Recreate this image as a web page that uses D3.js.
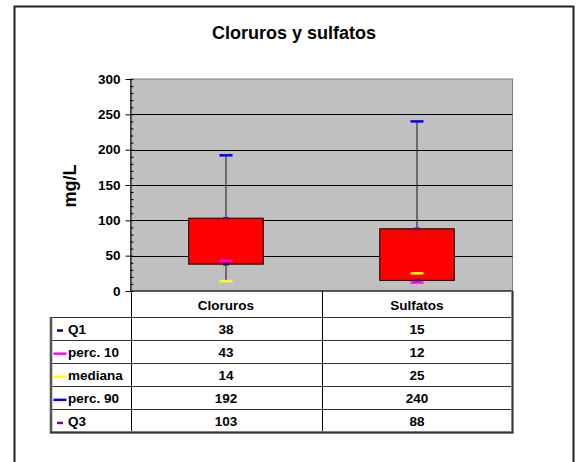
<!DOCTYPE html>
<html>
<head>
<meta charset="utf-8">
<script src="https://cdn.jsdelivr.net/npm/d3@7"></script>
<style>
  body { margin: 0; background: #fff; }
  text { font-family: "Liberation Sans", Arial, sans-serif; font-weight: bold; fill: #000; }
</style>
</head>
<body>
<div id="chart"></div>
<script>
// data
var categories = ["Cloruros", "Sulfatos"];
var seriesNames = ["Q1", "perc. 10", "mediana", "perc. 90", "Q3"];
var q1 = [38, 15];
var perc10 = [43, 12];
var mediana = [14, 25];
var perc90 = [192, 240];
var q3 = [103, 88];
var yTicks = [0, 50, 100, 150, 200, 250, 300];

var seriesValues = [q1, perc10, mediana, perc90, q3];
var seriesColors = ["#000080", "#FF00FF", "#FFFF00", "#0000FF", "#800080"];
var markerWidth = [6, 13, 13, 13, 6];

var svgWidth = 580, svgHeight = 462;
var plot = { left: 130.5, right: 512.5, top: 79, bottom: 291 };
var table = { left: 51, headerBottom: 317, bottom: 432.5 };

var svg = d3.select("#chart").append("svg")
  .attr("width", svgWidth)
  .attr("height", svgHeight);

// outer frame
svg.append("rect")
  .attr("x", 14.5).attr("y", 6.5)
  .attr("width", 559).attr("height", 480)
  .attr("fill", "#fff")
  .attr("stroke", "#222")
  .attr("stroke-width", 2);

// title
svg.append("text")
  .attr("x", 294).attr("y", 39)
  .attr("text-anchor", "middle")
  .style("font-size", "18px")
  .text("Cloruros y sulfatos");

// scales
var xScale = d3.scaleBand()
  .domain(categories)
  .range([plot.left, plot.right]);

var yScale = d3.scaleLinear()
  .domain([0, 300])
  .range([plot.bottom, plot.top]);

// plot area
svg.append("rect")
  .attr("x", plot.left).attr("y", plot.top)
  .attr("width", plot.right - plot.left)
  .attr("height", plot.bottom - plot.top)
  .attr("fill", "#C0C0C0")
  .attr("stroke", "#808080")
  .attr("stroke-width", 1);

// gridlines
svg.append("g").selectAll("line")
  .data(yTicks.filter(d => d > 0 && d < 300))
  .enter().append("line")
  .attr("x1", plot.left).attr("x2", plot.right)
  .attr("y1", d => Math.round(yScale(d)) + 0.5)
  .attr("y2", d => Math.round(yScale(d)) + 0.5)
  .attr("stroke", "#000")
  .attr("stroke-width", 1);

// minor ticks (inside)
var minorAxis = d3.axisRight(yScale)
  .tickValues(d3.range(0, 301, 10))
  .tickSize(3)
  .tickFormat("");
svg.append("g")
  .attr("transform", `translate(${plot.left}, 0)`)
  .call(minorAxis)
  .call(g => g.select(".domain").remove())
  .selectAll("line").attr("stroke", "#000");

// y axis
var yAxis = d3.axisLeft(yScale)
  .tickValues(yTicks)
  .tickSize(5)
  .tickPadding(5)
  .tickSizeOuter(0);
var yAxisG = svg.append("g")
  .attr("transform", `translate(${plot.left}, 0)`)
  .call(yAxis);
yAxisG.select(".domain").attr("stroke", "#000");
yAxisG.selectAll(".tick line").attr("stroke", "#000");
yAxisG.selectAll("text")
  .style("font-size", "13.5px")
  .style("font-family", "'Liberation Sans', Arial, sans-serif")
  .style("font-weight", "bold")
  .attr("fill", "#000");

// bottom axis line
svg.append("line")
  .attr("x1", plot.left).attr("x2", plot.right)
  .attr("y1", plot.bottom).attr("y2", plot.bottom)
  .attr("stroke", "#000");

// y label
svg.append("text")
  .attr("transform", `translate(70, ${(plot.top + plot.bottom) / 2 + 1}) rotate(-90)`)
  .attr("text-anchor", "middle")
  .attr("dominant-baseline", "central")
  .style("font-size", "18px")
  .text("mg/L");

// high-low lines
var boxes = categories.map((c, i) => ({
  cat: c,
  hi: d3.max(seriesValues, s => s[i]),
  lo: d3.min(seriesValues, s => s[i]),
  open: q1[i],
  close: q3[i]
}));

var cx = d => xScale(d.cat) + xScale.bandwidth() / 2;

svg.append("g").selectAll("line")
  .data(boxes)
  .enter().append("line")
  .attr("x1", cx).attr("x2", cx)
  .attr("y1", d => yScale(d.hi))
  .attr("y2", d => yScale(d.lo))
  .attr("stroke", "#333")
  .attr("stroke-width", 1.2);

// up-down bars
var boxWidth = xScale.bandwidth() * 0.39;
svg.append("g").selectAll("rect")
  .data(boxes)
  .enter().append("rect")
  .attr("x", d => cx(d) - boxWidth / 2)
  .attr("width", boxWidth)
  .attr("y", d => yScale(Math.max(d.open, d.close)))
  .attr("height", d => Math.abs(yScale(d.open) - yScale(d.close)))
  .attr("fill", "#FF0000")
  .attr("stroke", "#000")
  .attr("stroke-width", 1);

// markers (dashes)
seriesValues.forEach((vals, s) => {
  svg.append("g").selectAll("line")
    .data(categories)
    .enter().append("line")
    .attr("x1", (d, i) => xScale(d) + xScale.bandwidth() / 2 - markerWidth[s] / 2)
    .attr("x2", (d, i) => xScale(d) + xScale.bandwidth() / 2 + markerWidth[s] / 2)
    .attr("y1", (d, i) => yScale(vals[i]))
    .attr("y2", (d, i) => yScale(vals[i]))
    .attr("stroke", seriesColors[s])
    .attr("stroke-width", 2.5);
});

// data table
var rowScale = d3.scaleBand()
  .domain(seriesNames)
  .range([table.headerBottom, table.bottom]);

var tableG = svg.append("g");

// header labels
tableG.selectAll(".hdr")
  .data(categories)
  .enter().append("text")
  .attr("x", d => xScale(d) + xScale.bandwidth() / 2)
  .attr("y", (plot.bottom + table.headerBottom) / 2 + 1)
  .attr("text-anchor", "middle")
  .attr("dominant-baseline", "central")
  .style("font-size", "13.5px")
  .text(d => d);

// horizontal rules
tableG.selectAll(".hrule")
  .data(seriesNames)
  .enter().append("line")
  .attr("x1", table.left).attr("x2", plot.right)
  .attr("y1", d => Math.round(rowScale(d)) + 0.5)
  .attr("y2", d => Math.round(rowScale(d)) + 0.5)
  .attr("stroke", "#333");

// vertical rules
[plot.left, xScale(categories[1])].forEach(x => {
  tableG.append("line")
    .attr("x1", Math.round(x) + 0.5).attr("x2", Math.round(x) + 0.5)
    .attr("y1", plot.bottom).attr("y2", table.bottom)
    .attr("stroke", "#000");
});

// outer border of the table (darker edge)
tableG.append("path")
  .attr("d", `M${table.left},${table.headerBottom} V${table.bottom} H${plot.right} V${plot.bottom}`)
  .attr("fill", "none")
  .attr("stroke", "#9a9a9a")
  .attr("stroke-width", 3);
tableG.append("path")
  .attr("d", `M${table.left},${table.headerBottom} V${table.bottom} H${plot.right} V${plot.bottom}`)
  .attr("fill", "none")
  .attr("stroke", "#333")
  .attr("stroke-width", 1.3);

// row labels with legend keys
seriesNames.forEach((name, s) => {
  var yMid = rowScale(name) + rowScale.bandwidth() / 2 + 1;
  tableG.append("line")
    .attr("x1", 60 - markerWidth[s] / 2).attr("x2", 60 + markerWidth[s] / 2)
    .attr("y1", yMid + 1).attr("y2", yMid + 1)
    .attr("stroke", seriesColors[s])
    .attr("stroke-width", 2.5);
  tableG.append("text")
    .attr("x", 68)
    .attr("y", yMid)
    .attr("dominant-baseline", "central")
    .style("font-size", "13.5px")
    .text(name);
  tableG.selectAll(null)
    .data(categories)
    .enter().append("text")
    .attr("x", d => xScale(d) + xScale.bandwidth() / 2)
    .attr("y", yMid)
    .attr("text-anchor", "middle")
    .attr("dominant-baseline", "central")
    .style("font-size", "13.5px")
    .text((d, i) => seriesValues[s][i]);
});
</script>
</body>
</html>
